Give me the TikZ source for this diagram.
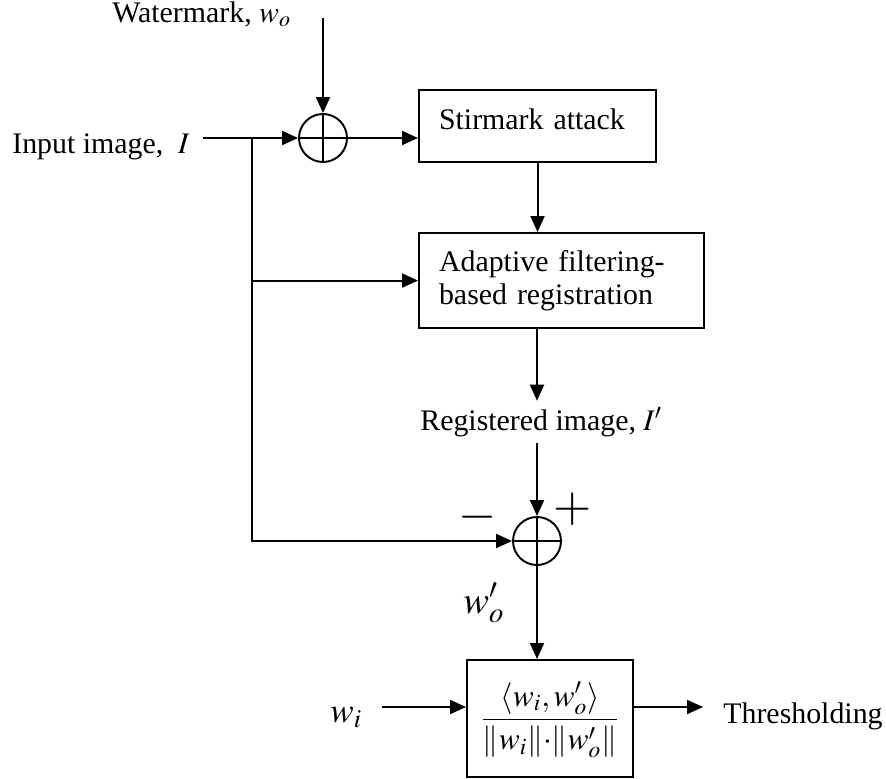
\documentclass[tikz,border=0pt]{standalone}
\usepackage{mathptmx}
\usepackage{fontspec}
\setmainfont{Liberation Serif}
\usetikzlibrary{arrows.meta}

\tikzset{
  block/.style={draw, rectangle, line width=1.2pt, align=left, inner xsep=0.4cm},
  sum/.style={draw, circle, line width=1.1pt, minimum size=0.96cm, inner sep=0pt,
    path picture={\draw[line width=1.1pt]
      (path picture bounding box.north) -- (path picture bounding box.south)
      (path picture bounding box.west) -- (path picture bounding box.east);}},
  lbl/.style={inner sep=0pt, anchor=base west},
  sig/.style={-{Triangle[length=0.32cm,width=0.28cm]}, line width=1.1pt}
}

\begin{document}
\begin{tikzpicture}[x=0.02cm, y=-0.02cm, font=\fontsize{17}{19}\selectfont]
  \useasboundingbox (0,0) rectangle (886,778);

  % processing blocks
  \begin{scope}[every node/.style=block]
    \node (stir)  [anchor=north west, minimum width=4.74cm, minimum height=1.44cm,
                   text width=3.94cm, text depth=0.28cm] at (418,89) {Stirmark attack};
    \node (adapt) [anchor=north west, minimum width=5.7cm, minimum height=1.9cm,
                   text width=4.9cm] at (418,232) {Adaptive filtering-\\based registration};
    \node (corr)  [anchor=north west, minimum width=3.32cm, minimum height=2.34cm,
                   align=center, inner xsep=0pt, text depth=0.55cm] at (466,659)
      {\fontsize{18}{20}\selectfont
       $\displaystyle\frac{\langle w_i, w_o'\rangle}{\|w_i\|{\cdot}\|w_o'\|}$};
  \end{scope}

  % summing junctions
  \node (c1) [sum] at (323,138) {};
  \node (c2) [sum] at (537,541) {};

  % signal names
  \begin{scope}[every node/.style=lbl]
    \node (wm)  at (112,22)  {Watermark, $w_o$};
    \node (img) at (12,153)  {Input image, \ $I$};
    \node (reg) [inner ysep=0.12cm] at (420,430) {Registered image, $I'$};
    \node (wo)  at (463,613) {\fontsize{22}{24}\selectfont$w_o'$};
    \node (wi)  at (330,722) {\fontsize{20}{22}\selectfont$w_i$};
    \node (thr) at (723,723) {Thresholding};
  \end{scope}

  \begin{scope}[every node/.style={inner sep=0pt, font=\fontsize{28}{28}\selectfont}]
    \node (minus) at (478,517) {$-$};
    \node (plus)  at (573,509) {$+$};
  \end{scope}

  \coordinate (wmin)  at (323,18);
  \coordinate (imgin) at (203,138);
  \coordinate (br)    at (252,138);
  \coordinate (wiout) at (382,707);
  \coordinate (thrin) at (703,707);

  \draw[sig] (wmin) -- (c1.north);
  \draw[sig] (imgin) -- (c1.west);
  \draw[sig] (c1.east) -- (c1.east -| stir.west);
  \draw[sig] (stir.south) -- (stir.south |- adapt.north);
  \draw[sig] (br |- adapt.west) -- (adapt.west);
  \draw[sig] (br) |- (c2.west);
  \draw[sig] (adapt.south -| c2) -- (reg.north -| c2);
  \draw[sig] (reg.south -| c2) -- (c2.north);
  \draw[sig] (c2.south) -- (c2.south |- corr.north);
  \draw[sig] (wiout) -- (wiout -| corr.west);
  \draw[sig] (wiout -| corr.east) -- (thrin);

\end{tikzpicture}
\end{document}
